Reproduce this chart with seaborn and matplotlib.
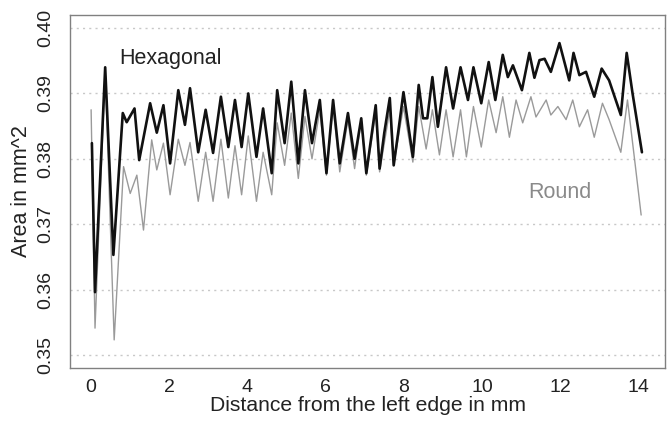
import matplotlib
matplotlib.use("Agg")
import matplotlib.pyplot as plt
import seaborn as sns
import pandas as pd

# Hexagonal (black) series: key points
hex_x = [0.02, 0.10, 0.36, 0.57, 0.81, 0.91, 1.11, 1.23, 1.51, 1.68, 1.85, 2.02,
         2.23, 2.40, 2.53, 2.74, 2.93, 3.12, 3.32, 3.51, 3.68, 3.85, 4.02, 4.23,
         4.40, 4.62, 4.76, 4.95, 5.12, 5.30, 5.47, 5.65, 5.85, 6.02, 6.19, 6.36,
         6.57, 6.74, 6.91, 7.04, 7.28, 7.38, 7.50, 7.64, 7.74, 7.85, 7.99, 8.23,
         8.38, 8.49, 8.60, 8.73, 8.87, 9.08, 9.26, 9.45, 9.64, 9.78, 9.98, 10.17,
         10.34, 10.53, 10.66, 10.79, 11.02, 11.21, 11.34, 11.47, 11.60, 11.76,
         11.98, 12.23, 12.34, 12.49, 12.66, 12.87, 13.06, 13.25, 13.55, 13.70,
         13.85, 14.09]
hex_y = [0.3824, 0.3596, 0.3940, 0.3653, 0.3870, 0.3856, 0.3877, 0.3798, 0.3885,
         0.3840, 0.3882, 0.3793, 0.3905, 0.3852, 0.3908, 0.3810, 0.3875, 0.3809,
         0.3895, 0.3818, 0.3890, 0.3818, 0.3900, 0.3803, 0.3877, 0.3778, 0.3905,
         0.3824, 0.3918, 0.3793, 0.3905, 0.3824, 0.3890, 0.3778, 0.3890, 0.3793,
         0.3870, 0.3800, 0.3862, 0.3778, 0.3882, 0.3785, 0.3840, 0.3893, 0.3790,
         0.3838, 0.3902, 0.3803, 0.3913, 0.3862, 0.3862, 0.3925, 0.3849, 0.3940,
         0.3877, 0.3940, 0.3890, 0.3940, 0.3885, 0.3948, 0.3890, 0.3959, 0.3925,
         0.3943, 0.3905, 0.3962, 0.3924, 0.3951, 0.3953, 0.3933, 0.3977, 0.3920,
         0.3962, 0.3928, 0.3933, 0.3895, 0.3938, 0.3920, 0.3867, 0.3962, 0.3900,
         0.3810]

# Round (grey) series
rnd_x = [0.00, 0.10, 0.36, 0.59, 0.83, 1.00, 1.17, 1.34, 1.55, 1.68, 1.85, 2.02,
         2.23, 2.40, 2.53, 2.74, 2.93, 3.12, 3.32, 3.51, 3.68, 3.85, 4.02, 4.23,
         4.40, 4.62, 4.76, 4.95, 5.12, 5.30, 5.47, 5.65, 5.85, 6.02, 6.19, 6.36,
         6.57, 6.74, 6.91, 7.04, 7.28, 7.38, 7.64, 7.74, 7.99, 8.23, 8.38, 8.57,
         8.73, 8.91, 9.08, 9.26, 9.45, 9.60, 9.78, 9.98, 10.17, 10.36, 10.53,
         10.70, 10.87, 11.04, 11.25, 11.38, 11.64, 11.76, 11.94, 12.15, 12.32,
         12.49, 12.70, 12.87, 13.08, 13.25, 13.55, 13.72, 13.90, 14.07]
rnd_y = [0.3875, 0.3541, 0.3935, 0.3523, 0.3788, 0.3747, 0.3775, 0.3691, 0.3829,
         0.3783, 0.3824, 0.3745, 0.3830, 0.3790, 0.3825, 0.3735, 0.3810, 0.3735,
         0.3830, 0.3740, 0.3820, 0.3745, 0.3835, 0.3735, 0.3810, 0.3745, 0.3855,
         0.3790, 0.3870, 0.3770, 0.3865, 0.3800, 0.3875, 0.3775, 0.3880, 0.3780,
         0.3860, 0.3785, 0.3860, 0.3775, 0.3870, 0.3780, 0.3875, 0.3790, 0.3880,
         0.3795, 0.3880, 0.3815, 0.3875, 0.3806, 0.3875, 0.3803, 0.3875, 0.3803,
         0.3880, 0.3818, 0.3890, 0.3840, 0.3895, 0.3833, 0.3890, 0.3855, 0.3895,
         0.3864, 0.3890, 0.3867, 0.3880, 0.3860, 0.3890, 0.3849, 0.3875, 0.3833,
         0.3885, 0.3860, 0.3810, 0.3890, 0.3800, 0.3714]

x_ticks = [0, 2, 4, 6, 8, 10, 12, 14]
y_ticks = [0.35, 0.36, 0.37, 0.38, 0.39, 0.40]
y_tick_labels = ["0.35", "0.36", "0.37", "0.38", "0.39", "0.40"]

sns.set_style("white")
plt.rcParams["font.family"] = ["Liberation Sans", "DejaVu Sans"]

df_hex = pd.DataFrame({"x": hex_x, "y": hex_y})
df_rnd = pd.DataFrame({"x": rnd_x, "y": rnd_y})

fig = plt.figure(figsize=(6.69, 4.21), dpi=100)
ax = fig.add_axes([70 / 669, 1 - 368 / 421, (665 - 70) / 669, (368 - 15) / 421])

for yv in y_ticks:
    ax.axhline(yv, color="#c8c8c8", lw=1.0, ls=(0, (1.5, 3)), zorder=0)

sns.lineplot(data=df_rnd, x="x", y="y", ax=ax, color="#9a9a9a", lw=1.0,
             sort=False, estimator=None)
sns.lineplot(data=df_hex, x="x", y="y", ax=ax, color="#111111", lw=1.9,
             sort=False, estimator=None)

ax.set_xlim(-0.54, 14.68)
ax.set_ylim(0.348, 0.402)
ax.set_xticks(x_ticks)
ax.set_xticklabels([str(t) for t in x_ticks])
ax.set_yticks(y_ticks)
ax.set_yticklabels(y_tick_labels, rotation=90, va="center")

for s in ax.spines.values():
    s.set_color("#808080")
    s.set_linewidth(1.0)
ax.tick_params(axis="both", direction="out", length=6, width=1.0,
               color="#808080", labelcolor="#222222", labelsize=14)
ax.tick_params(axis="x", pad=2)
ax.tick_params(axis="y", pad=5)

ax.set_xlabel("Distance from the left edge in mm", fontsize=15.2, color="#222222", labelpad=0)
ax.set_ylabel("Area in mm^2", fontsize=15.5, color="#222222", labelpad=4)

ax.text(2.02, 0.3954, "Hexagonal", fontsize=15.5, color="#222222", ha="center", va="center")
ax.text(11.98, 0.3749, "Round", fontsize=15.5, color="#8a8a8a", ha="center", va="center")

fig.savefig("out.png", dpi=100)
